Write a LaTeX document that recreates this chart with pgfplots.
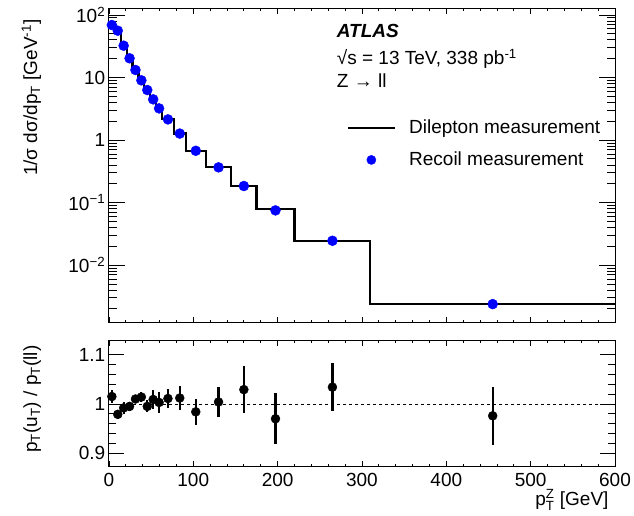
\documentclass[border=0pt]{standalone}
\usepackage{pgfplots}
\pgfplotsset{compat=1.18}
\usepackage{amsmath}
\usepackage{fontspec}
\setmainfont{Liberation Sans}
\newcommand{\fs}{\fontsize{19}{22}\selectfont}

\pgfplotstableread{
x y
0 69.2
7 56.1
14 32.3
21 20.3
28 13.2
35 9.02
42 6.31
49 4.48
56 3.21
63 2.14
77 1.27
91 0.674
115 0.366
145 0.184
175 0.0785
220 0.0242
310 0.00242
600 0.00242
}\dilepton

\pgfplotstableread{
x y
3.5 69.2
10.5 56.1
17.5 32.3
24.5 20.3
31.5 13.2
38.5 9.02
45.5 6.31
52.5 4.48
59.5 3.21
70 2.14
84 1.27
103 0.674
130 0.366
160 0.184
197.5 0.075
265 0.0245
455 0.00238
}\recoil

\pgfplotstableread{
x y e
3.5 1.015 0.013
10.5 0.979 0.009
17.5 0.992 0.012
24.5 0.995 0.009
31.5 1.010 0.008
38.5 1.014 0.010
45.5 0.995 0.012
52.5 1.009 0.020
59.5 1.003 0.021
70 1.011 0.020
84 1.012 0.025
103 0.984 0.027
130 1.004 0.031
160 1.029 0.048
197.5 0.970 0.052
265 1.034 0.048
455 0.976 0.059
}\ratio

\pgfplotsset{
  rootframe/.style={
    scale only axis, width=506.1pt, xmin=0, xmax=600,
    axis line style={line width=0.9pt, black},
    tick style={line width=0.8pt, black},
    tick align=inside,
    /pgf/number format/assume math mode=true,
    tick label style={font=\fs},
    label style={font=\fs},
    yticklabel style={xshift=2.8pt},
  },
}

\begin{document}
\fs
\begin{tikzpicture}
\path[use as bounding box] (0,0) rectangle (634pt,516pt);

% ---- top panel: x ticks ----
\begin{axis}[rootframe, at={(108.9pt,193.3pt)}, anchor=south west, height=314.4pt,
  ymode=log, ymin=1.2e-3, ymax=128, ytick=\empty, yminorticks=false,
  xtick={0,100,...,600}, minor x tick num=4, xticklabels={},
  major tick length=6pt, minor tick length=3pt]
\end{axis}

% ---- top panel: y ticks and data ----
\begin{axis}[rootframe, at={(108.9pt,193.3pt)}, anchor=south west, height=314.4pt,
  ymode=log, ymin=1.2e-3, ymax=128, xtick=\empty,
  ytick={0.01,0.1,1,10,100},
  yticklabels={10\textsuperscript{−2},10\textsuperscript{−1},1,10,10\textsuperscript{2}},
  minor ytick={0.002,0.003,0.004,0.005,0.006,0.007,0.008,0.009,
    0.02,0.03,0.04,0.05,0.06,0.07,0.08,0.09,
    0.2,0.3,0.4,0.5,0.6,0.7,0.8,0.9,
    2,3,4,5,6,7,8,9,20,30,40,50,60,70,80,90},
  major tick length=16pt, minor tick length=8pt,
  ylabel={1/σ dσ/dp\textsubscript{T} [GeV\textsuperscript{-1}]},
  ylabel style={at={(axis description cs:-0.142,0.985)}, anchor=base east, rotate=0},
  legend style={draw=none, fill=none, font=\fs, at={(axis description cs:0.470,0.568)},
    anchor=west, inner sep=0pt, nodes={inner sep=0pt}, column sep=13.4pt, row sep=15pt},
  legend cell align=left,
  clip=true]
\addplot[black, line width=2.2pt, const plot mark left,
  legend image code/.code={\draw[black,line width=2.2pt] (0pt,0pt) -- (46.6pt,0pt);}]
  table[x=x,y=y] {\dilepton};
\addlegendentry{Dilepton measurement}
\addplot[only marks, mark=*, mark size=5pt, color={rgb,255:red,0;green,0;blue,255},
  legend image code/.code={\path[draw=none,fill=none] (0pt,-1pt) rectangle (46.6pt,1pt); \fill[blue] (23.3pt,0pt) circle (4.6pt);}]
  table[x=x,y=y] {\recoil};
\addlegendentry{Recoil measurement}
\node[anchor=base west, inner sep=0pt, font=\fs] at (axis description cs:0.4501,0.9065) {\textbf{\textit{ATLAS}}};
\node[anchor=base west, inner sep=0pt, font=\fs] at (axis description cs:0.4501,0.8198) {√s = 13 TeV, 338 pb\textsuperscript{-1}};
\node[anchor=base west, inner sep=0pt, font=\fs] at (axis description cs:0.4501,0.7487) {Z → ll};
\end{axis}

% ---- ratio panel: x ticks ----
\begin{axis}[rootframe, at={(108.9pt,49.3pt)}, anchor=south west, height=126pt,
  ymin=0.873, ymax=1.128, ytick=\empty,
  xtick={0,100,...,600}, minor x tick num=4,
  major tick length=5.5pt, minor tick length=2.7pt,
  xlabel={$\text{p}^{\text{Z}}_{\text{T}}$ [GeV]},
  xlabel style={at={(axis description cs:1.0,-0.304)}, anchor=base east}]
\end{axis}

% ---- ratio panel: y ticks and data ----
\begin{axis}[rootframe, at={(108.9pt,49.3pt)}, anchor=south west, height=126pt,
  ymin=0.873, ymax=1.128, xtick=\empty,
  ytick={0.9,1,1.1}, yticklabels={0.9,1,1.1}, minor y tick num=4,
  major tick length=15pt, minor tick length=6.7pt,
  ylabel={p\textsubscript{T}(u\textsubscript{T}) / p\textsubscript{T}(ll)},
  ylabel style={at={(axis description cs:-0.142,1.013)}, anchor=base east, rotate=0},
  clip=true]
\addplot[black, line width=0.8pt, dash pattern=on 3.5pt off 2.5pt] coordinates {(0,1) (600,1)};
\addplot[only marks, mark=*, mark size=4.5pt, black,
  error bars/.cd, y dir=both, y explicit, error mark=none,
  error bar style={line width=2.2pt, black}]
  table[x=x, y=y, y error=e] {\ratio};
\end{axis}
\end{tikzpicture}
\end{document}
